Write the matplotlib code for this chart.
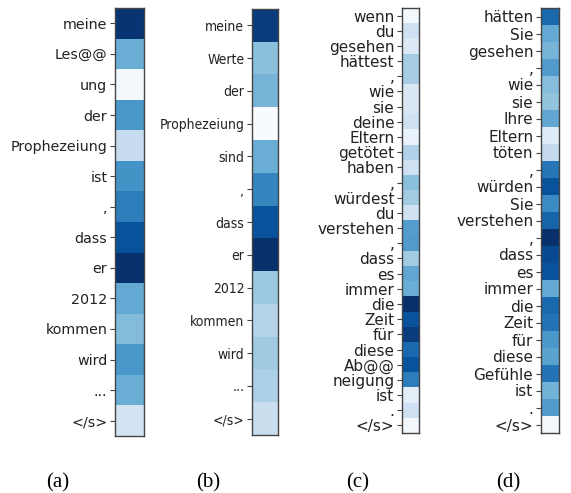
import numpy as np
import matplotlib
matplotlib.use('Agg')
import matplotlib.pyplot as plt

# tokens and attention weights
tok_a = ['meine', 'Les@@', 'ung', 'der', 'Prophezeiung', 'ist', ',', 'dass',
         'er', '2012', 'kommen', 'wird', '...', '</s>']
val_a = [0.98, 0.50, 0.02, 0.60, 0.24, 0.62, 0.70, 0.87, 1.00, 0.52, 0.44,
         0.60, 0.50, 0.18]

tok_b = ['meine', 'Werte', 'der', 'Prophezeiung', 'sind', ',', 'dass', 'er',
         '2012', 'kommen', 'wird', '...', '</s>']
val_b = [0.95, 0.42, 0.47, 0.00, 0.50, 0.67, 0.87, 1.00, 0.38, 0.30, 0.37,
         0.33, 0.22]

tok_c = ['wenn', 'du', 'gesehen', 'hättest', ',', 'wie', 'sie', 'deine',
         'Eltern', 'getötet', 'haben', ',', 'würdest', 'du', 'verstehen', ',',
         'dass', 'es', 'immer', 'die', 'Zeit', 'für', 'diese', 'Ab@@',
         'neigung', 'ist', '.', '</s>']
val_c = [0.02, 0.20, 0.13, 0.35, 0.35, 0.15, 0.15, 0.20, 0.07, 0.32, 0.20,
         0.42, 0.36, 0.20, 0.57, 0.58, 0.36, 0.53, 0.50, 1.00, 0.87, 0.95,
         0.78, 0.87, 0.70, 0.10, 0.20, 0.02]

tok_d = ['hätten', 'Sie', 'gesehen', ',', 'wie', 'sie', 'Ihre', 'Eltern',
         'töten', ',', 'würden', 'Sie', 'verstehen', ',', 'dass', 'es',
         'immer', 'die', 'Zeit', 'für', 'diese', 'Gefühle', 'ist', '.', '</s>']
val_d = [0.78, 0.52, 0.47, 0.58, 0.43, 0.40, 0.53, 0.12, 0.25, 0.73, 0.87,
         0.65, 0.80, 1.00, 0.90, 0.87, 0.52, 0.78, 0.74, 0.60, 0.55, 0.74,
         0.48, 0.58, 0.02]

captions = ['(a)', '(b)', '(c)', '(d)']

W, H = 571, 493
fig = plt.figure(figsize=(W / 100, H / 100), dpi=100)

# pixel boxes: left, top, right, bottom
boxes = [(115, 8, 144, 436), (252, 9, 278, 435),
         (402, 8, 419, 433), (541, 8, 559, 433)]
panels = [(tok_a, val_a, {'fontsize': 10.3}),
          (tok_b, val_b, {'fontsize': 10, 'fontstretch': 'condensed'}),
          (tok_c, val_c, {'fontsize': 11}),
          (tok_d, val_d, {'fontsize': 11})]

for (l, t, r, b), (tok, val, kw) in zip(boxes, panels):
    ax = fig.add_axes([l / W, 1 - b / H, (r - l) / W, (b - t) / H])
    ax.imshow(np.array(val).reshape(-1, 1), cmap='Blues', aspect='auto',
              vmin=0, vmax=1, interpolation='nearest')
    ax.set_xticks([])
    ax.set_yticks(range(len(tok)))
    ax.set_yticklabels(tok, color='#222222', **kw)
    ax.tick_params(axis='y', length=3.5, color='#444444', pad=2)
    for s in ax.spines.values():
        s.set_color('#444444')
        s.set_linewidth(1.0)

for i, c in enumerate(captions):
    fig.text((58 + 150 * i) / W, 1 - 483 / H, c, ha='center', va='center',
             fontsize=15, family='Liberation Serif')

fig.savefig('out.png', dpi=100)
